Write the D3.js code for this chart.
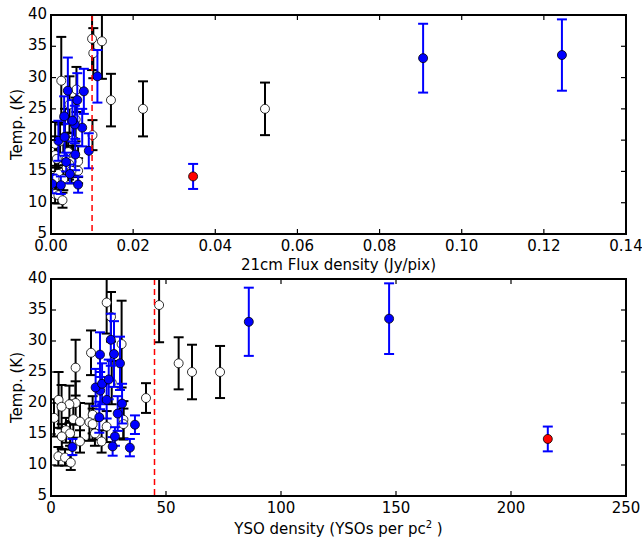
<!DOCTYPE html>
<html><head><meta charset="utf-8">
<script src="https://cdn.jsdelivr.net/npm/d3@7"></script>
<style>body{margin:0;background:#fff}svg{display:block}text{font-family:"DejaVu Sans",sans-serif;fill:#000}</style>
</head><body>
<script>
// Open (black) sources: temperature, error, 21cm flux, YSO density
const tempOpen = [36.2,35.8,33.9,29.5,28.1,26.4,25.7,25.0,25.0,23.3,20.8,20.5,20.0,19.8,19.4,18.1,17.6,17.4,17.3,17.0,16.9,16.6,16.6,16.2,15.6,15.1,15.1,14.6,13.8,13.8,11.4,11.2,10.4];
const errOpen  = [5.0,6.0,4.0,7.0,3.6,4.2,4.5,4.4,4.2,3.5,2.4,4.5,3.5,3.0,3.5,3.0,3.0,3.0,3.0,3.0,3.0,2.5,2.5,2.5,2.0,2.0,2.0,2.0,1.8,1.8,1.5,1.3,1.2];
const fluxOpen = [0.0100,0.0124,0.0103,0.0025,0.0062,0.0146,0.0045,0.0224,0.0521,0.0060,0.0101,0.0034,0.0054,0.0022,0.0010,0.0042,0.0010,0.0030,0.0054,0.0014,0.0038,0.0066,0.0050,0.0044,0.0038,0.0066,0.0050,0.0018,0.0012,0.0030,0.0010,0.0018,0.0028];
const ysoOpen  = [24.2,47.0,26.1,30.7,17.4,55.5,10.7,61.3,73.5,26.4,41.3,3.3,10.7,8.0,4.6,18.1,1.3,9.7,31.5,12.6,16.7,18.1,31.5,24.2,6.5,19.1,8.3,4.7,12.6,22.0,3.2,6.1,8.6];
// Blue sources
const tempBlue = [12.8,12.9,13.0,14.6,16.5,17.7,18.3,19.9,20.5,22.0,22.5,23.1,23.8,26.4,27.8,27.9,30.2,33.1,33.6];
const errBlue  = [1.4,1.3,1.5,1.5,1.5,2.5,2.8,3.2,3.0,3.0,3.0,3.3,3.2,4.3,3.6,5.3,4.2,5.5,5.7];
const fluxBlue = [0.0024,0.0066,0.0003,0.0046,0.0037,0.0059,0.0092,0.0018,0.0033,0.0076,0.0058,0.0052,0.0032,0.0064,0.0080,0.0041,0.0113,0.0906,0.1244];
const ysoBlue  = [34.3,9.3,26.8,27.8,36.5,21.0,29.0,30.9,24.2,21.4,19.4,22.2,25.1,30.0,21.3,27.4,26.0,86.0,147.0];
// Red source
const tempRed = [14.2], errRed = [2.0], fluxRed = [0.0346], ysoRed = [216];
// Axis ticks and thresholds
const fluxTicks = [0,0.02,0.04,0.06,0.08,0.10,0.12,0.14];
const ysoTicks = [0,50,100,150,200,250];
const tempTicks = [5,10,15,20,25,30,35,40];
const fluxCut = 0.01, ysoCut = 45;

const W = 642, H = 537, FS = 15;
const svg = d3.select("body").append("svg").attr("width", W).attr("height", H);

function panel(id, top, bottom, xDomain, xTicks, xFmt, xKey, cut, xLabelNode){
  const x = d3.scaleLinear().domain(xDomain).range([51, 626]);
  const y = d3.scaleLinear().domain([5, 40]).range([bottom, top]);
  const g = svg.append("g");
  g.append("clipPath").attr("id", id).append("rect")
    .attr("x", 51).attr("y", top).attr("width", 575).attr("height", bottom - top);
  const plot = g.append("g").attr("clip-path", `url(#${id})`);

  const groups = [
    {t: tempOpen, e: errOpen, x: xKey === "flux" ? fluxOpen : ysoOpen, col: "#000", fill: "#fff"},
    {t: tempBlue, e: errBlue, x: xKey === "flux" ? fluxBlue : ysoBlue, col: "#0000ff", fill: "#0000ff"},
    {t: tempRed, e: errRed, x: xKey === "flux" ? fluxRed : ysoRed, col: "#0000ff", fill: "#ff0000"}
  ];
  groups.forEach(gr => {
    const d = gr.t.map((t, i) => ({t, e: gr.e[i], x: gr.x[i]}));
    const eb = plot.append("g").attr("stroke", gr.col).attr("stroke-width", 2);
    eb.selectAll("line.v").data(d).join("line")
      .attr("x1", p => x(p.x)).attr("x2", p => x(p.x))
      .attr("y1", p => y(p.t - p.e)).attr("y2", p => y(p.t + p.e));
    eb.selectAll("line.c1").data(d).join("line")
      .attr("x1", p => x(p.x) - 5).attr("x2", p => x(p.x) + 5)
      .attr("y1", p => y(p.t - p.e)).attr("y2", p => y(p.t - p.e));
    eb.selectAll("line.c2").data(d).join("line")
      .attr("x1", p => x(p.x) - 5).attr("x2", p => x(p.x) + 5)
      .attr("y1", p => y(p.t + p.e)).attr("y2", p => y(p.t + p.e));
    plot.append("g").selectAll("circle").data(d).join("circle")
      .attr("cx", p => x(p.x)).attr("cy", p => y(p.t)).attr("r", 4.5)
      .attr("fill", gr.fill).attr("stroke", "#000").attr("stroke-width", 0.8);
  });

  plot.append("line").attr("x1", x(cut)).attr("x2", x(cut)).attr("y1", top).attr("y2", bottom)
    .attr("stroke", "#ff0000").attr("stroke-width", 1.5).attr("stroke-dasharray", "6,4");

  const tk = g.append("g").attr("stroke", "#000").attr("stroke-width", 1.2);
  xTicks.forEach(v => {
    tk.append("line").attr("x1", x(v)).attr("x2", x(v)).attr("y1", bottom).attr("y2", bottom - 5);
    tk.append("line").attr("x1", x(v)).attr("x2", x(v)).attr("y1", top).attr("y2", top + 5);
  });
  tempTicks.forEach(v => {
    tk.append("line").attr("x1", 51).attr("x2", 56).attr("y1", y(v)).attr("y2", y(v));
    tk.append("line").attr("x1", 626).attr("x2", 621).attr("y1", y(v)).attr("y2", y(v));
  });
  g.append("rect").attr("x", 51).attr("y", top).attr("width", 575).attr("height", bottom - top)
    .attr("fill", "none").attr("stroke", "#000").attr("stroke-width", 2);

  g.append("g").selectAll("text").data(xTicks).join("text")
    .attr("x", v => x(v)).attr("y", bottom + 17).attr("text-anchor", "middle")
    .attr("font-size", FS).text(xFmt);
  g.append("g").selectAll("text").data(tempTicks).join("text")
    .attr("x", 47).attr("y", v => y(v) + 4).attr("text-anchor", "end")
    .attr("font-size", FS).text(v => v);
  g.append("text").attr("transform", `translate(22,${(top + bottom) / 2}) rotate(-90)`)
    .attr("text-anchor", "middle").attr("font-size", FS).text("Temp. (K)");
  xLabelNode(g, (51 + 626) / 2, bottom);
}

panel("c1", 15, 234, [0, 0.14], fluxTicks, d3.format(".2f"), "flux", fluxCut, (g, cx, b) => {
  g.append("text").attr("x", cx).attr("y", b + 36).attr("text-anchor", "middle")
    .attr("font-size", FS).text("21cm Flux density (Jy/pix)");
});
panel("c2", 279, 496, [0, 250], ysoTicks, d3.format("d"), "yso", ysoCut, (g, cx, b) => {
  const t = g.append("text").attr("x", cx).attr("y", b + 38).attr("text-anchor", "middle").attr("font-size", FS);
  t.append("tspan").text("YSO density (YSOs per pc");
  t.append("tspan").attr("font-size", 10).attr("dy", -6).text("2");
  t.append("tspan").attr("dy", 6).text(" )");
});
</script>
</body></html>
